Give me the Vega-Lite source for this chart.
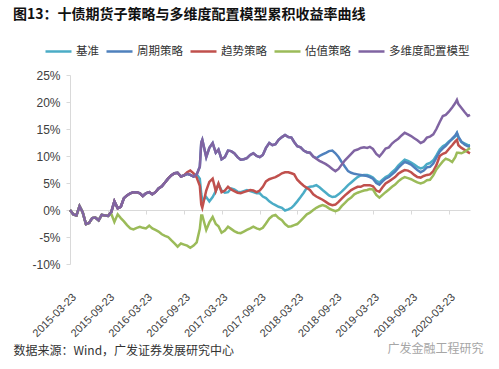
{
"$schema": "https://vega.github.io/schema/vega-lite/v6.json",
"width": 400,
"height": 189,
"autosize": {"type": "none"},
"padding": {"left": 70, "top": 75, "right": 29, "bottom": 105},
"background": "white",
"title": {"text": "图13：十债期货子策略与多维度配置模型累积收益率曲线", "anchor": "start", "frame": "group", "dx": -57, "dy": -11, "font": "Noto Sans CJK SC", "fontSize": 14, "fontWeight": "bold", "color": "#111111"},
"data": {"values": [
{"d":"2015-03-23","A":0,"B":0,"C":0,"D":0,"E":0},
{"d":"2015-04-08","A":-0.8,"B":-0.8,"C":-0.8,"D":-0.8,"E":-0.8},
{"d":"2015-04-23","A":-1.0,"B":-1.0,"C":-1.0,"D":-1.0,"E":-1.0},
{"d":"2015-05-08","A":0.7,"B":0.7,"C":0.7,"D":0.7,"E":0.7},
{"d":"2015-05-23","A":-0.4,"B":-0.4,"C":-0.4,"D":-0.4,"E":-0.4},
{"d":"2015-06-08","A":-2.6,"B":-2.6,"C":-2.6,"D":-2.6,"E":-2.6},
{"d":"2015-06-23","A":-2.4,"B":-2.4,"C":-2.4,"D":-2.4,"E":-2.4},
{"d":"2015-07-08","A":-1.5,"B":-1.5,"C":-1.5,"D":-1.5,"E":-1.5},
{"d":"2015-07-23","A":-1.4,"B":-1.4,"C":-1.4,"D":-1.4,"E":-1.4},
{"d":"2015-08-08","A":-1.9,"B":-1.9,"C":-1.9,"D":-1.9,"E":-1.9},
{"d":"2015-08-23","A":-0.9,"B":-0.9,"C":-0.9,"D":-0.9,"E":-0.9},
{"d":"2015-09-08","A":-1.0,"B":-1.0,"C":-1.0,"D":-1.0,"E":-1.0},
{"d":"2015-09-23","A":-1.1,"B":-1.1,"C":-1.1,"D":-1.1,"E":-1.1},
{"d":"2015-10-08","A":-0.4,"B":-0.4,"C":-0.4,"D":-0.7,"E":-0.4},
{"d":"2015-10-23","A":1.6,"B":1.6,"C":1.6,"D":-2.2,"E":1.6},
{"d":"2015-11-08","A":0.3,"B":0.3,"C":0.3,"D":-0.8,"E":0.3},
{"d":"2015-11-23","A":0.6,"B":0.6,"C":0.6,"D":-1.5,"E":0.6},
{"d":"2015-12-08","A":2.2,"B":2.2,"C":2.2,"D":-2.1,"E":2.2},
{"d":"2015-12-23","A":2.7,"B":2.7,"C":2.7,"D":-2.8,"E":2.7},
{"d":"2016-01-08","A":3.1,"B":3.1,"C":3.1,"D":-3.4,"E":3.1},
{"d":"2016-01-23","A":3.3,"B":3.3,"C":3.3,"D":-3.6,"E":3.3},
{"d":"2016-02-08","A":3.3,"B":3.3,"C":3.3,"D":-3.3,"E":3.3},
{"d":"2016-02-23","A":3.1,"B":3.1,"C":3.1,"D":-3.1,"E":3.1},
{"d":"2016-03-08","A":2.6,"B":2.6,"C":2.6,"D":-3.3,"E":2.6},
{"d":"2016-03-23","A":3.1,"B":3.1,"C":3.1,"D":-3.4,"E":3.1},
{"d":"2016-04-08","A":3.3,"B":3.3,"C":3.3,"D":-2.9,"E":3.3},
{"d":"2016-04-23","A":2.9,"B":2.9,"C":2.9,"D":-3.4,"E":2.9},
{"d":"2016-05-08","A":3.3,"B":3.3,"C":3.3,"D":-3.7,"E":3.3},
{"d":"2016-05-23","A":4.0,"B":4.0,"C":4.0,"D":-4.0,"E":4.0},
{"d":"2016-06-08","A":4.4,"B":4.4,"C":4.4,"D":-4.5,"E":4.4},
{"d":"2016-06-23","A":5.1,"B":5.1,"C":5.1,"D":-4.8,"E":5.1},
{"d":"2016-07-08","A":5.8,"B":5.8,"C":5.8,"D":-5.0,"E":5.8},
{"d":"2016-07-23","A":6.4,"B":6.4,"C":6.4,"D":-5.6,"E":6.4},
{"d":"2016-08-08","A":6.8,"B":6.8,"C":6.8,"D":-6.2,"E":6.8},
{"d":"2016-08-23","A":6.9,"B":6.9,"C":6.9,"D":-6.8,"E":6.9},
{"d":"2016-09-08","A":6.2,"B":6.2,"C":6.2,"D":-6.2,"E":6.2},
{"d":"2016-09-23","A":6.4,"B":6.4,"C":6.4,"D":-6.4,"E":6.4},
{"d":"2016-10-08","A":6.7,"B":6.7,"C":7.0,"D":-6.6,"E":6.7},
{"d":"2016-10-23","A":6.5,"B":6.5,"C":7.3,"D":-7.0,"E":6.5},
{"d":"2016-11-08","A":6.2,"B":6.2,"C":6.8,"D":-6.6,"E":6.2},
{"d":"2016-11-23","A":6.6,"B":6.6,"C":6.0,"D":-6.0,"E":6.6},
{"d":"2016-12-08","A":5.8,"B":8.0,"C":4.5,"D":-3.5,"E":8.0},
{"d":"2016-12-15","A":3.0,"B":12.5,"C":1.0,"D":-1.0,"E":12.5},
{"d":"2016-12-20","A":1.8,"B":13.0,"C":0.4,"D":-1.0,"E":13.0},
{"d":"2017-01-08","A":2.4,"B":9.8,"C":3.6,"D":-3.7,"E":9.8},
{"d":"2017-01-23","A":1.6,"B":11.5,"C":5.2,"D":-2.3,"E":11.5},
{"d":"2017-02-08","A":2.4,"B":12.4,"C":5.8,"D":-1.3,"E":12.4},
{"d":"2017-02-23","A":3.5,"B":10.6,"C":3.5,"D":-2.6,"E":10.6},
{"d":"2017-03-08","A":4.8,"B":11.2,"C":4.9,"D":-3.0,"E":11.2},
{"d":"2017-03-23","A":3.6,"B":9.4,"C":3.3,"D":-4.2,"E":9.4},
{"d":"2017-04-08","A":3.2,"B":9.8,"C":3.6,"D":-3.8,"E":9.8},
{"d":"2017-04-23","A":3.3,"B":11.0,"C":4.3,"D":-3.1,"E":11.0},
{"d":"2017-05-08","A":4.0,"B":10.9,"C":3.8,"D":-3.5,"E":10.9},
{"d":"2017-05-23","A":3.8,"B":10.5,"C":3.5,"D":-3.9,"E":10.5},
{"d":"2017-06-08","A":3.4,"B":9.8,"C":3.2,"D":-4.2,"E":9.8},
{"d":"2017-06-23","A":3.3,"B":9.3,"C":3.1,"D":-4.3,"E":9.3},
{"d":"2017-07-08","A":3.5,"B":9.4,"C":3.3,"D":-4.0,"E":9.4},
{"d":"2017-07-23","A":3.7,"B":9.6,"C":3.5,"D":-3.7,"E":9.6},
{"d":"2017-08-08","A":3.5,"B":10.2,"C":3.7,"D":-3.4,"E":10.2},
{"d":"2017-08-23","A":3.3,"B":10.5,"C":3.6,"D":-3.1,"E":10.5},
{"d":"2017-09-08","A":3.1,"B":10.0,"C":3.3,"D":-3.4,"E":10.0},
{"d":"2017-09-23","A":3.1,"B":9.8,"C":3.6,"D":-3.6,"E":9.8},
{"d":"2017-10-08","A":2.5,"B":10.2,"C":4.3,"D":-3.3,"E":10.2},
{"d":"2017-10-23","A":2.2,"B":11.5,"C":5.3,"D":-2.5,"E":11.5},
{"d":"2017-11-08","A":1.6,"B":12.4,"C":5.7,"D":-1.6,"E":12.4},
{"d":"2017-11-23","A":1.2,"B":12.0,"C":5.9,"D":-1.1,"E":12.0},
{"d":"2017-12-08","A":0.9,"B":12.2,"C":6.1,"D":-0.9,"E":12.2},
{"d":"2017-12-23","A":0.6,"B":13.0,"C":6.4,"D":-1.5,"E":13.0},
{"d":"2018-01-08","A":0.4,"B":13.5,"C":6.8,"D":-1.9,"E":13.5},
{"d":"2018-01-23","A":-0.1,"B":13.9,"C":7.0,"D":-2.6,"E":13.9},
{"d":"2018-02-08","A":0.1,"B":13.5,"C":7.0,"D":-3.1,"E":13.5},
{"d":"2018-02-23","A":0.4,"B":13.4,"C":6.8,"D":-3.0,"E":13.4},
{"d":"2018-03-08","A":0.9,"B":12.6,"C":6.6,"D":-2.8,"E":12.6},
{"d":"2018-03-23","A":1.6,"B":11.8,"C":5.6,"D":-2.6,"E":11.8},
{"d":"2018-04-08","A":2.4,"B":11.6,"C":5.0,"D":-2.0,"E":11.6},
{"d":"2018-04-23","A":3.2,"B":11.0,"C":4.5,"D":-1.4,"E":11.0},
{"d":"2018-05-08","A":4.1,"B":10.7,"C":4.1,"D":-0.8,"E":10.7},
{"d":"2018-05-23","A":4.3,"B":10.6,"C":3.7,"D":-0.5,"E":10.6},
{"d":"2018-06-08","A":4.4,"B":9.9,"C":2.9,"D":0.0,"E":9.9},
{"d":"2018-06-23","A":4.6,"B":9.6,"C":2.5,"D":0.4,"E":9.5},
{"d":"2018-07-08","A":4.2,"B":10.0,"C":2.2,"D":0.7,"E":9.1},
{"d":"2018-07-23","A":3.7,"B":10.3,"C":1.9,"D":0.9,"E":8.8},
{"d":"2018-08-08","A":3.2,"B":10.6,"C":1.5,"D":0.7,"E":8.5},
{"d":"2018-08-23","A":2.7,"B":10.9,"C":1.1,"D":0.3,"E":8.1},
{"d":"2018-09-08","A":2.4,"B":11.0,"C":0.9,"D":0.0,"E":7.6},
{"d":"2018-09-23","A":2.5,"B":10.5,"C":1.0,"D":-0.2,"E":7.2},
{"d":"2018-10-08","A":2.9,"B":9.8,"C":1.5,"D":0.0,"E":7.6},
{"d":"2018-10-23","A":3.4,"B":8.9,"C":2.1,"D":0.7,"E":8.4},
{"d":"2018-11-08","A":4.0,"B":8.0,"C":2.7,"D":1.3,"E":9.2},
{"d":"2018-11-23","A":4.6,"B":7.2,"C":3.2,"D":1.9,"E":9.8},
{"d":"2018-12-08","A":5.1,"B":6.9,"C":3.7,"D":2.3,"E":10.4},
{"d":"2018-12-23","A":5.6,"B":6.7,"C":4.0,"D":2.9,"E":11.0},
{"d":"2019-01-08","A":6.1,"B":6.6,"C":4.3,"D":3.2,"E":11.2},
{"d":"2019-01-23","A":6.4,"B":6.5,"C":4.3,"D":3.4,"E":11.5},
{"d":"2019-02-08","A":6.5,"B":6.4,"C":4.6,"D":3.6,"E":11.6},
{"d":"2019-02-23","A":6.5,"B":6.3,"C":4.6,"D":3.7,"E":11.5},
{"d":"2019-03-08","A":6.3,"B":6.1,"C":4.6,"D":3.9,"E":11.7},
{"d":"2019-03-23","A":6.0,"B":5.8,"C":4.4,"D":3.8,"E":11.3},
{"d":"2019-04-08","A":5.4,"B":5.0,"C":3.6,"D":2.8,"E":10.4},
{"d":"2019-04-23","A":5.1,"B":4.7,"C":3.4,"D":2.3,"E":9.9},
{"d":"2019-05-08","A":5.6,"B":5.3,"C":4.2,"D":2.8,"E":10.6},
{"d":"2019-05-23","A":6.1,"B":5.8,"C":4.9,"D":3.3,"E":11.4},
{"d":"2019-06-08","A":6.4,"B":6.1,"C":5.3,"D":3.8,"E":11.6},
{"d":"2019-06-23","A":7.0,"B":6.6,"C":5.7,"D":4.3,"E":12.3},
{"d":"2019-07-08","A":7.5,"B":7.1,"C":6.1,"D":4.7,"E":12.8},
{"d":"2019-07-23","A":8.2,"B":7.8,"C":6.7,"D":5.3,"E":13.2},
{"d":"2019-08-08","A":8.8,"B":8.4,"C":7.1,"D":5.8,"E":13.8},
{"d":"2019-08-23","A":9.3,"B":8.9,"C":7.4,"D":6.1,"E":14.3},
{"d":"2019-09-08","A":9.1,"B":8.7,"C":7.3,"D":5.9,"E":14.0},
{"d":"2019-09-23","A":8.8,"B":8.4,"C":7.0,"D":5.7,"E":13.7},
{"d":"2019-10-08","A":8.4,"B":7.9,"C":6.5,"D":5.4,"E":13.3},
{"d":"2019-10-23","A":8.0,"B":7.4,"C":6.1,"D":5.1,"E":12.9},
{"d":"2019-11-08","A":7.7,"B":7.0,"C":6.0,"D":4.9,"E":12.4},
{"d":"2019-11-23","A":7.9,"B":7.3,"C":6.3,"D":5.1,"E":12.7},
{"d":"2019-12-08","A":8.5,"B":7.9,"C":6.5,"D":5.5,"E":13.4},
{"d":"2019-12-23","A":8.7,"B":8.0,"C":6.6,"D":5.6,"E":13.6},
{"d":"2020-01-08","A":9.2,"B":8.6,"C":7.2,"D":6.4,"E":14.0},
{"d":"2020-01-23","A":10.1,"B":9.7,"C":8.3,"D":7.5,"E":15.0},
{"d":"2020-02-08","A":11.2,"B":10.8,"C":10.0,"D":8.3,"E":16.3},
{"d":"2020-02-23","A":11.8,"B":11.4,"C":10.4,"D":9.0,"E":17.4},
{"d":"2020-03-08","A":12.1,"B":11.9,"C":10.6,"D":9.5,"E":17.6},
{"d":"2020-03-23","A":12.7,"B":12.5,"C":11.3,"D":9.3,"E":18.2},
{"d":"2020-04-08","A":13.1,"B":13.2,"C":12.0,"D":8.9,"E":19.0},
{"d":"2020-04-23","A":13.6,"B":13.8,"C":12.7,"D":9.8,"E":19.8},
{"d":"2020-05-01","A":14.2,"B":14.3,"C":13.0,"D":10.6,"E":20.4},
{"d":"2020-05-08","A":13.4,"B":13.6,"C":12.0,"D":10.6,"E":19.6},
{"d":"2020-05-23","A":12.6,"B":12.6,"C":11.5,"D":10.5,"E":18.9},
{"d":"2020-06-08","A":12.3,"B":12.1,"C":11.1,"D":10.8,"E":18.1},
{"d":"2020-06-23","A":12.0,"B":11.8,"C":10.7,"D":11.2,"E":17.4},
{"d":"2020-07-03","A":12.0,"B":11.7,"C":10.5,"D":11.5,"E":17.6}
]},
"transform": [{"fold": ["A", "B", "C", "D", "E"], "as": ["series", "value"]}],
"mark": {"type": "line", "strokeWidth": 2.5},
"encoding": {
"x": {"field": "d", "type": "temporal",
  "scale": {"type": "utc", "domain": [{"year": 2015, "month": 3, "date": 23, "utc": true}, {"year": 2020, "month": 7, "date": 3, "utc": true}]},
  "axis": {"values": [
    {"year": 2015, "month": 3, "date": 23, "utc": true},
    {"year": 2015, "month": 9, "date": 23, "utc": true},
    {"year": 2016, "month": 3, "date": 23, "utc": true},
    {"year": 2016, "month": 9, "date": 23, "utc": true},
    {"year": 2017, "month": 3, "date": 23, "utc": true},
    {"year": 2017, "month": 9, "date": 23, "utc": true},
    {"year": 2018, "month": 3, "date": 23, "utc": true},
    {"year": 2018, "month": 9, "date": 23, "utc": true},
    {"year": 2019, "month": 3, "date": 23, "utc": true},
    {"year": 2019, "month": 9, "date": 23, "utc": true},
    {"year": 2020, "month": 3, "date": 23, "utc": true}],
    "format": "%Y-%m-%d", "labelAngle": -45, "labelFlush": false, "labelOverlap": false,
    "offset": -54, "domainColor": "#d9d9d9", "tickColor": "#d9d9d9", "tickSize": 4,
    "labelPadding": 77, "labelFont": "Liberation Sans", "labelFontSize": 11, "labelColor": "#404040", "grid": false,
    "title": "数据来源：Wind，广发证券发展研究中心", "titleX": -57, "titleY": 140, "titleAlign": "left", "titleBaseline": "middle",
    "titleFont": "Noto Sans CJK SC", "titleFontSize": 12, "titleFontWeight": "normal", "titleColor": "#333333"}},
"y": {"field": "value", "type": "quantitative",
  "scale": {"domain": [-10, 25], "nice": false, "zero": false},
  "axis": {"values": [-10, -5, 0, 5, 10, 15, 20, 25], "labelExpr": "datum.value + '%'",
    "domainColor": "#d9d9d9", "tickColor": "#d9d9d9", "tickSize": 4, "labelPadding": 6,
    "labelFont": "Liberation Sans", "labelFontSize": 12, "labelColor": "#404040", "grid": false,
    "title": "广发金融工程研究", "titleAngle": 0, "titleX": 317, "titleY": 273, "titleAlign": "left", "titleBaseline": "middle",
    "titleFont": "Noto Sans CJK SC", "titleFontSize": 12, "titleFontWeight": "normal", "titleColor": "#a6a6a6"}},
"color": {"field": "series", "type": "nominal",
  "scale": {"domain": ["A", "B", "C", "D", "E"], "range": ["#4bacc6", "#4f81bd", "#c0504d", "#9bbb59", "#8064a2"]},
  "legend": {"orient": "none", "legendX": -26, "legendY": -38, "direction": "horizontal", "title": null,
    "symbolType": "stroke", "symbolSize": 676, "symbolStrokeWidth": 2.5,
    "labelExpr": "{'A':'基准','B':'周期策略','C':'趋势策略','D':'估值策略','E':'多维度配置模型'}[datum.label]",
    "labelFont": "Noto Sans CJK SC", "labelFontSize": 11.5, "labelColor": "#333333", "labelOffset": 3, "columnPadding": 2, "labelLimit": 200}}
},
"config": {"view": {"stroke": null}}
}
